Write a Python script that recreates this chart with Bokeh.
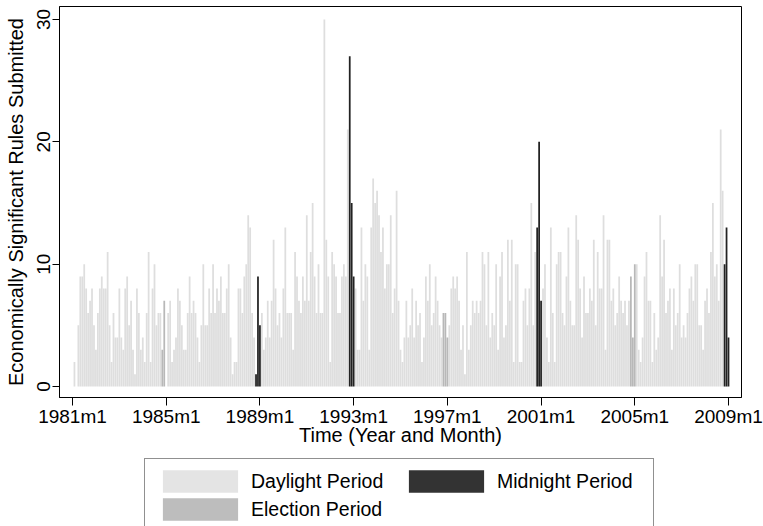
from bokeh.plotting import figure
from bokeh.layouts import column
from bokeh.models import ColumnDataSource, Legend, LegendItem, FixedTicker, Range1d
from bokeh.embed import file_html
from bokeh.resources import INLINE

start_year = 1981

# Economically significant rules submitted per month, 1981m1 .. 2009m1
rules_1981_1984 = [0, 2, 0, 5, 9, 9, 10, 8, 6, 7, 8, 5, 3, 6, 8, 9, 8, 8, 11, 5,
                   2, 6, 4, 4, 8, 4, 3, 8, 9, 5, 7, 3, 1, 8, 6, 3, 4, 2, 6, 11,
                   2, 8, 10, 5, 6, 6, 3, 7]
rules_1985_1988 = [0, 6, 7, 2, 3, 4, 8, 7, 5, 3, 3, 6, 9, 6, 7, 6, 4, 2, 5, 10,
                   5, 5, 8, 6, 10, 6, 8, 7, 9, 6, 6, 8, 10, 4, 1, 2,
                   2, 8, 8, 6, 9, 10, 14, 13, 6, 4, 1, 9]
rules_1989_1992 = [5, 6, 3, 4, 7, 4, 7, 12, 8, 5, 6, 4, 8, 13, 6, 6, 6, 3, 11, 9,
                   7, 6, 9, 7, 14, 7, 11, 15, 9, 6, 10,
                   6, 6, 30, 12, 9, 2, 11, 10, 9, 6, 6, 9, 10, 9, 21, 27, 15]
rules_1993_1996 = [9, 8, 3, 3, 13, 7, 10, 9, 3, 13, 17, 15, 16, 14, 11, 13, 8, 10,
                   10, 14, 6, 8, 16, 7, 3, 2, 4,
                   7, 4, 5, 8, 4, 7, 5, 6, 2, 4, 9, 7, 10, 5, 6, 9, 7, 5, 4, 6, 6]
rules_1997_2000 = [4, 5, 8, 9, 8, 9, 7, 3, 5, 1, 11, 3, 5, 7, 6, 7, 6, 7, 11, 10,
                   5, 11, 4, 6, 5, 10, 3, 9, 11, 4, 5, 12, 7, 12, 2, 10, 10, 2, 2,
                   7, 8, 5, 8, 15, 5, 11, 13, 20]
rules_2001_2004 = [7, 8, 10, 4, 2, 13, 6, 2, 10, 11, 11, 6, 5, 9, 13, 7, 5, 5,
                   14, 12, 8, 4, 9, 6, 6, 8, 7, 12, 5, 11, 8, 8, 14, 3, 12, 12, 7,
                   8, 5, 6, 9, 7, 6, 7, 5, 7, 9, 4]
rules_2005_2009 = [10, 10, 3, 2, 4, 9, 11, 7, 7, 2, 6, 3, 4, 14,
                   9, 12, 6, 7, 8, 3, 8, 5, 6, 10, 4, 5, 4, 6, 8, 9, 7, 10, 10, 5,
                   5, 3, 7, 8, 6, 11, 15, 9, 10, 7, 21, 16, 10, 13, 4]

election_months = ["1984m11", "1984m12", "1985m1",
                   "1996m11", "1996m12", "1997m1",
                   "2004m11", "2004m12", "2005m1"]
midnight_months = ["1988m11", "1988m12", "1989m1",
                   "1992m11", "1992m12", "1993m1",
                   "2000m11", "2000m12", "2001m1",
                   "2008m11", "2008m12", "2009m1"]

tick_labels = ["1981m1", "1985m1", "1989m1", "1993m1",
               "1997m1", "2001m1", "2005m1", "2009m1"]
y_ticks = [0, 10, 20, 30]

period_names = ["Daylight Period", "Election Period", "Midnight Period"]
period_colors = ["#dedede", "#b8b8b8", "#222222"]
swatch_colors = ["#e4e4e4", "#bdbdbd", "#333333"]

rules = (rules_1981_1984 + rules_1985_1988 + rules_1989_1992 + rules_1993_1996
         + rules_1997_2000 + rules_2001_2004 + rules_2005_2009)
month_labels = [f"{start_year + i // 12}m{i % 12 + 1}" for i in range(len(rules))]


def period_of(lab):
    if lab in midnight_months:
        return "Midnight Period"
    if lab in election_months:
        return "Election Period"
    return "Daylight Period"


def period_data(name):
    idx = [i for i, lab in enumerate(month_labels) if period_of(lab) == name]
    return dict(x=idx, top=[rules[i] for i in idx])


tick_pos = [month_labels.index(t) for t in tick_labels]

FONT = "Liberation Sans"

p = figure(width=763, height=452, output_backend="svg", toolbar_location=None,
           x_range=Range1d(-6.66, 342.66), y_range=Range1d(-0.9, 31.06),
           min_border_left=59, min_border_right=22, min_border_top=6,
           min_border_bottom=55)
p.background_fill_color = "white"
p.border_fill_color = "white"
p.outline_line_color = "black"
p.outline_line_width = 1
p.grid.visible = False

BW = 0.9
for name, col in zip(period_names, period_colors):
    p.vbar(x="x", top="top", bottom=0, width=BW,
           source=ColumnDataSource(period_data(name)),
           fill_color=col, line_color=None)

# x axis
xa = p.xaxis[0]
xa.ticker = FixedTicker(ticks=tick_pos)
xa.major_label_overrides = {pos: lab for pos, lab in zip(tick_pos, tick_labels)}
xa.axis_label = "Time (Year and Month)"
xa.major_tick_out = 8
xa.major_tick_in = 0
xa.minor_tick_out = 0
xa.minor_tick_in = 0
xa.major_label_standoff = 0
xa.axis_label_standoff = -6
xa.axis_line_color = "black"

# y axis
ya = p.yaxis[0]
ya.ticker = FixedTicker(ticks=y_ticks)
ya.axis_label = "Economically Significant Rules Submitted"
ya.major_label_orientation = "vertical"
ya.major_tick_out = 7
ya.major_tick_in = 0
ya.minor_tick_out = 0
ya.minor_tick_in = 0
ya.major_label_standoff = 2
ya.axis_label_standoff = 8
ya.axis_line_color = "black"

for ax in (xa, ya):
    ax.major_label_text_font = FONT
    ax.major_label_text_font_size = "19px"
    ax.major_label_text_color = "black"
    ax.axis_label_text_font = FONT
    ax.axis_label_text_font_size = "20px"
    ax.axis_label_text_font_style = "normal"
    ax.axis_label_text_color = "black"
    ax.major_tick_line_color = "black"

# legend strip below the chart (hidden renderers only supply the swatches)
lg = figure(width=763, height=74, output_backend="svg", toolbar_location=None,
            x_axis_type=None, y_axis_type=None,
            x_range=Range1d(0, 1), y_range=Range1d(0, 1),
            min_border_left=0, min_border_right=0, min_border_top=0,
            min_border_bottom=0)
lg.outline_line_color = None
lg.grid.visible = False
items = []
for name, col in zip(period_names, swatch_colors):
    r = lg.vbar(x="x", top="top", bottom=0, width=1,
                source=ColumnDataSource(period_data(name)),
                fill_color=col, line_color=None, visible=False)
    items.append(LegendItem(label=name, renderers=[r]))

legend = Legend(items=items, ncols=2, location=(85, -6))
legend.glyph_width = 94
legend.glyph_height = 28
legend.label_height = 28
legend.label_width = 148
legend.label_standoff = 4
legend.spacing = 0
legend.padding = 8
legend.margin = 0
legend.border_line_color = "#222222"
legend.border_line_width = 1
legend.background_fill_color = "white"
legend.background_fill_alpha = 1
legend.label_text_font = FONT
legend.label_text_font_size = "19.5px"
legend.label_text_color = "black"
lg.add_layout(legend, "center")

open("out.html", "w").write(file_html(column(p, lg), INLINE))
